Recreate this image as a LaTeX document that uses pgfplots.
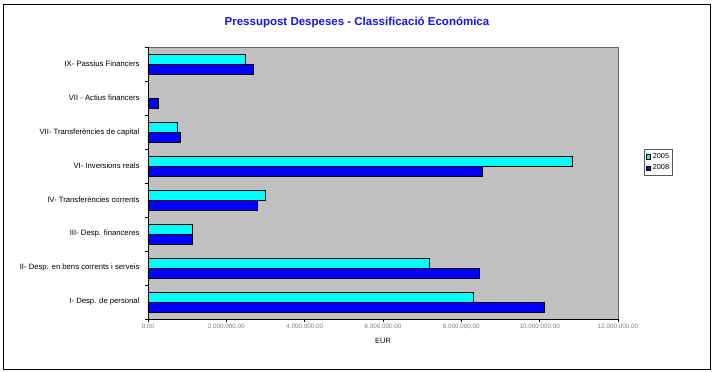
\documentclass[border=0pt]{standalone}
\usepackage{pgfplots}
\pgfplotsset{compat=1.18}
\usepackage{fontspec}
\setmainfont{Liberation Sans}
\definecolor{bgray}{RGB}{192,192,192}
\definecolor{cyanb}{RGB}{0,255,255}
\definecolor{blueb}{RGB}{0,0,255}
\definecolor{titleblue}{RGB}{20,20,240}
\begin{document}
\begin{tikzpicture}[x=1pt,y=1pt]
\path[use as bounding box] (0,0) rectangle (715,-372);
\draw[black, line width=0.9pt] (3,-4) rectangle (710,-369);
\node[font=\fontsize{11.5}{13}\selectfont\bfseries, text=titleblue] at (357,-22) {Pressupost Despeses - Classificació Económica};
\begin{axis}[
  at={(148pt,-319pt)}, anchor=south west,
  scale only axis, width=470pt, height=272pt,
  xbar, bar width=10pt,
  xmin=0, xmax=12e6, ymin=-0.5, ymax=7.5,
  scaled x ticks=false,
  axis background/.style={fill=bgray, draw=gray!80!black},
  axis x line*=bottom, axis y line*=left,
  axis line style={black, line width=0.9pt, -},
  xtick={0,2e6,4e6,6e6,8e6,10e6,12e6},
  xticklabels={{0,00},{2.000.000,00},{4.000.000,00},{6.000.000,00},{8.000.000,00},{10.000.000,00},{12.000.000,00}},
  x tick label style={font=\fontsize{6.3}{7}\selectfont, text=gray, yshift=1pt},
  ytick={0,...,7},
  yticklabels={{I- Desp. de personal},{II- Desp. en bens corrents i serveis},{III- Desp. financeres},{IV- Transferències corrents},{VI- Inversions reals},{VII- Transferències de capital},{VII - Actius financers},{IX- Passius Financers}},
  y tick label style={font=\fontsize{7.7}{9}\selectfont, xshift=-2pt},
  tick align=outside, major tick length=3pt,
  ytick style={draw=none},
  xtick style={black, line width=0.6pt},
  extra y ticks={-0.5,0.5,1.5,2.5,3.5,4.5,5.5,6.5,7.5},
  extra y tick labels={},
  extra y tick style={ytick style={draw=black, line width=0.6pt}},
  xlabel={EUR},
  every axis x label/.style={at={(axis description cs:0.5,0)}, anchor=center, yshift=-22pt, font=\fontsize{7.5}{9}\selectfont},
  legend style={at={(axis description cs:1.055,0.625)}, anchor=north west,
    draw=gray!70!black, line width=0.8pt, fill=white, font=\fontsize{7.3}{8}\selectfont,
    inner sep=1.8pt, row sep=1pt, cells={anchor=west}},
  legend image code/.code={\draw[#1, draw=black, line width=0.4pt] (0pt,-2.2pt) rectangle (4.4pt,2.2pt);},
]
\addplot[fill=cyanb, draw=black, line width=0.7pt, bar shift=5pt] coordinates {
 (8.31e6,0) (7.18e6,1) (1.13e6,2) (2.99e6,3) (10.83e6,4) (0.75e6,5) (2.48e6,7)};
\addplot[fill=blueb, draw=black, line width=0.7pt, bar shift=-5pt] coordinates {
 (10.11e6,0) (8.47e6,1) (1.13e6,2) (2.79e6,3) (8.53e6,4) (0.83e6,5) (0.26e6,6) (2.69e6,7)};
\legend{2005,2008}
\end{axis}
\end{tikzpicture}
\end{document}
